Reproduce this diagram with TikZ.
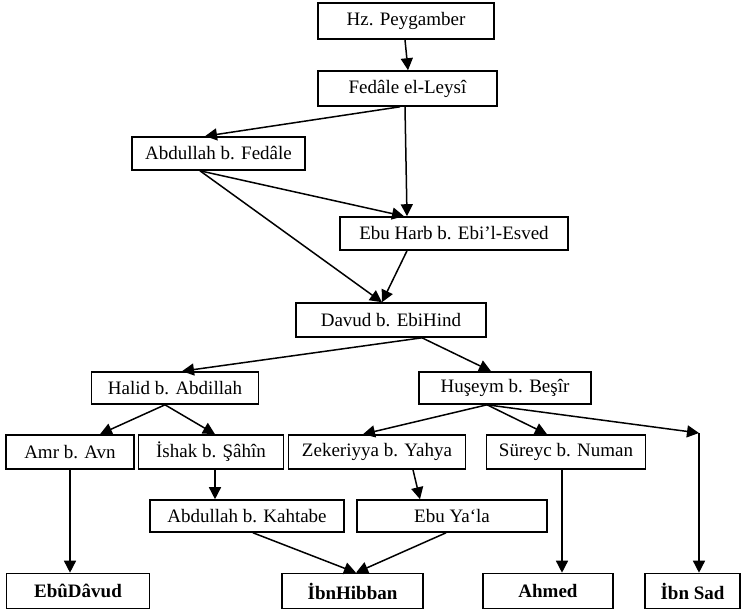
\documentclass[tikz,border=0pt]{standalone}
\usepackage{fontspec}
\setmainfont{Liberation Serif}
\usetikzlibrary{arrows.meta}
\begin{document}
\begin{tikzpicture}[x=1pt,y=-1pt,
  box/.style={draw, line width=1.6pt, inner sep=0pt, font=\fontsize{19}{22}\selectfont},
  bbox/.style={box, font=\fontsize{19}{22}\selectfont\bfseries},
  arr/.style={line width=1.5pt, -{Triangle[length=12pt,width=12pt]}},
  ln/.style={line width=1.5pt}]
\useasboundingbox (0,0) rectangle (745,613);
\node[box, minimum width=176pt, minimum height=36pt] (hz) at (406,21) {Hz. Peygamber};
\node[box, minimum width=179pt, minimum height=35pt] (fed) at (407.5,88.5) {Fedâle el-Leysî};
\node[box, minimum width=173pt, minimum height=33pt] (abf) at (218.5,153.5) {Abdullah b. Fedâle};
\node[box, minimum width=228pt, minimum height=33pt] (ebh) at (454,233.5) {Ebu Harb b. Ebi’l-Esved};
\node[box, minimum width=190pt, minimum height=34pt] (dav) at (391,320) {Davud b. EbiHind};
\node[box, minimum width=167pt, minimum height=32pt] (hal) at (175,388) {Halid b. Abdillah};
\node[box, minimum width=172pt, minimum height=32pt] (hus) at (505,388) {Huşeym b. Beşîr};
\node[box, minimum width=128pt, minimum height=34pt] (amr) at (70,452) {Amr b. Avn};
\node[box, minimum width=145pt, minimum height=34pt] (ish) at (211,452) {İshak b. Şâhîn};
\node[box, minimum width=177pt, minimum height=34pt] (zek) at (377,452) {Zekeriyya b. Yahya};
\node[box, minimum width=159pt, minimum height=34pt] (sur) at (566,452) {Süreyc b. Numan};
\node[box, minimum width=194pt, minimum height=32pt] (kah) at (247,516) {Abdullah b. Kahtabe};
\node[box, minimum width=190pt, minimum height=32pt] (yal) at (452,516) {Ebu Ya‘la};
\node[bbox, minimum width=143pt, minimum height=35pt] (ebd) at (78,591) {EbûDâvud};
\node[bbox, minimum width=141pt, minimum height=35pt] (ihb) at (352.5,591) {İbnHibban};
\node[bbox, minimum width=130pt, minimum height=35pt] (ahm) at (548,591) {Ahmed};
\node[bbox, minimum width=95pt, minimum height=35pt] (isd) at (692.5,591) {İbn Sad};
\coordinate (sadtop) at (699,433);
% connectors
\draw[arr] (hz.south -| 405,0) -- (fed.north -| 408,0);
\draw[arr] (fed.south -| 400,0) -- (abf.north -| 205,0);
\draw[arr] (fed.south -| 405,0) -- (ebh.north -| 407,0);
\draw[arr] (abf.south -| 200,0) -- (ebh.north -| 404,0);
\draw[arr] (abf.south -| 200,0) -- (dav.north -| 382,0);
\draw[arr] (ebh.south -| 407,0) -- (dav.north -| 382,0);
\draw[arr] (dav.south -| 422,0) -- (hal.north -| 182,0);
\draw[arr] (dav.south -| 422,0) -- (hus.north -| 491,0);
\draw[arr] (hal.south -| 165,0) -- (amr.north -| 100,0);
\draw[arr] (hal.south -| 165,0) -- (ish.north -| 215,0);
\draw[arr] (hus.south -| 487,0) -- (zek.north -| 363,0);
\draw[arr] (hus.south -| 487,0) -- (sur.north -| 547,0);
\draw[arr] (hus.south -| 487,0) -- (sadtop);
\draw[arr] (sadtop) -- (isd.north -| 699,0);
\draw[arr] (amr.south -| 70,0) -- (ebd.north -| 70,0);
\draw[arr] (ish.south -| 215,0) -- (kah.north -| 215,0);
\draw[arr] (zek.south -| 413,0) -- (yal.north -| 420,0);
\draw[arr] (sur.south -| 562,0) -- (ahm.north -| 562,0);
\draw[arr] (kah.south -| 253,0) -- (ihb.north -| 356,0);
\draw[arr] (yal.south -| 446,0) -- (ihb.north -| 356,0);
\end{tikzpicture}
\end{document}
